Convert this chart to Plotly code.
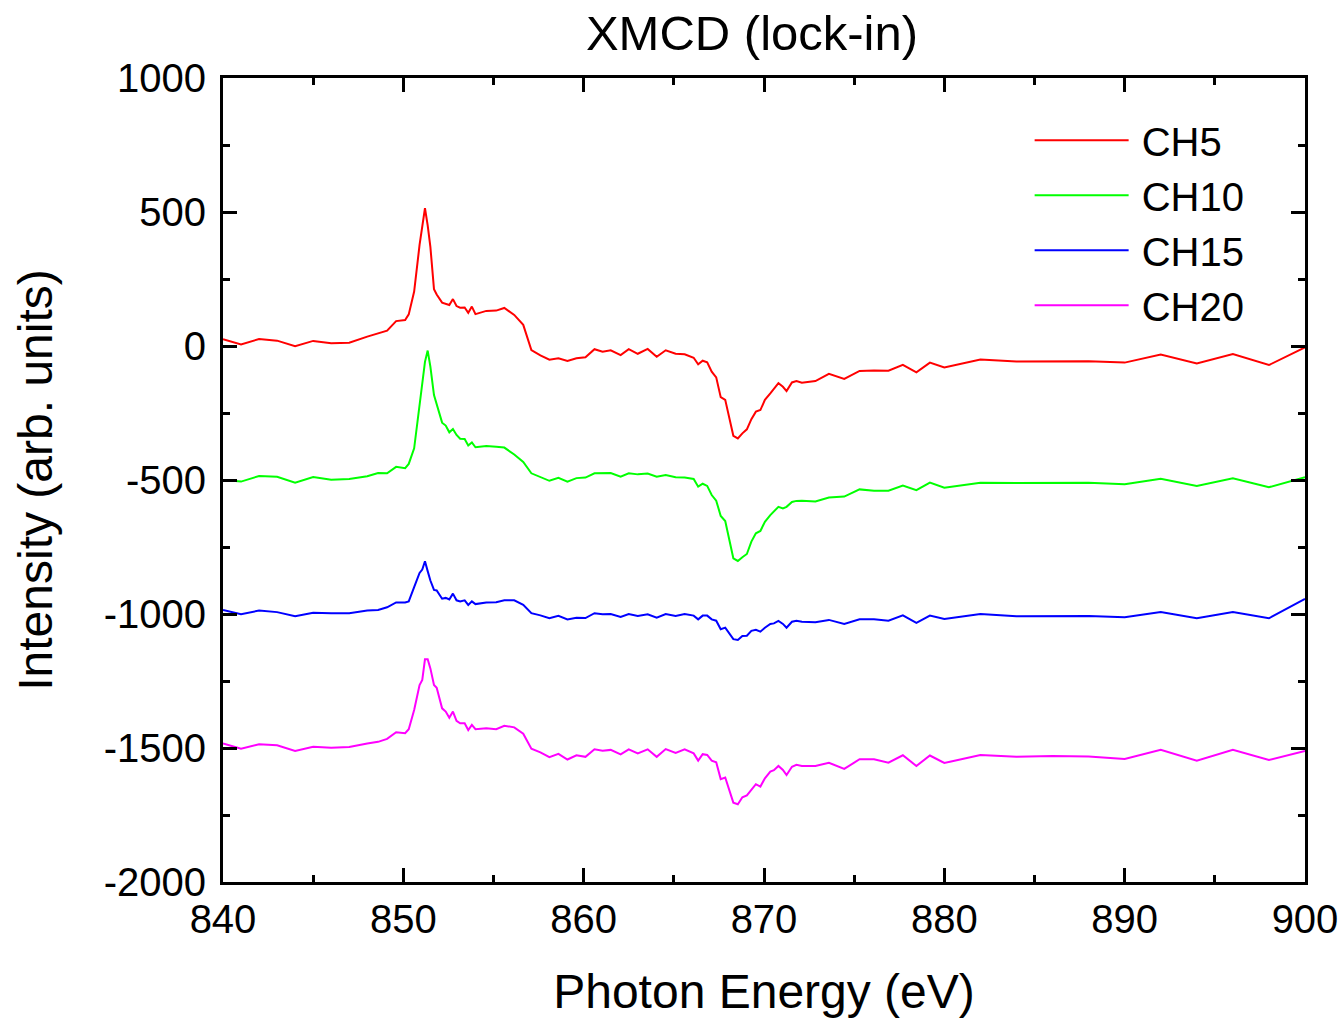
import plotly.graph_objects as go

energy = [840, 841, 842, 843, 844, 845, 846, 847, 848,
          848.6, 849.1, 849.6, 850.1, 850.3, 850.6, 850.9,
          851.05, 851.2, 851.35, 851.5, 851.7, 851.85,
          852.15, 852.35, 852.55, 852.75, 852.95,
          853.15, 853.4, 853.6, 853.8, 854.0,
          854.6, 855.15, 855.6, 856.15, 856.65,
          857.1, 857.6, 858.1, 858.6, 859.1, 859.6, 860.1, 860.6,
          861.05, 861.5, 862.05, 862.5, 863.0, 863.55, 864.05, 864.55,
          865.1, 865.6, 866.1, 866.35, 866.6, 866.85,
          867.1, 867.35, 867.6, 867.85, 868.3, 868.55, 868.8,
          869.05, 869.3, 869.55, 869.8, 870.05, 870.35, 870.55, 870.8,
          871.05, 871.25, 871.55, 871.8, 872.1,
          872.85, 873.6, 874.45, 875.3, 876.1, 876.9,
          877.7, 878.45, 879.2, 880,
          882, 884, 886, 888, 890, 892, 894, 896, 898, 900]

ch5 = [25, 6, 26, 20, -1, 19, 10, 12, 35,
       46, 57, 93, 97, 118, 203, 377,
       445, 514, 450, 370, 212, 192,
       162, 157, 153, 175, 149,
       143, 144, 124, 147, 119,
       131, 132, 142, 116, 79,
       -15, -35, -51, -46, -56, -46, -42, -12,
       -21, -16, -34, -12, -29, -11, -40, -16,
       -29, -31, -44, -68, -55, -61,
       -96, -117, -191, -201, -335, -345, -326,
       -311, -273, -245, -239, -201, -177, -160, -139,
       -152, -168, -136, -131, -137,
       -131, -104, -123, -93, -91, -92,
       -70, -98, -62, -80,
       -50, -58, -57, -57, -62, -32, -65, -30, -71, -5]

ch10 = [-500, -506, -485, -488, -510, -489, -499, -496, -486,
        -474, -475, -451, -456, -440, -382, -227,
        -143, -59, -17, -77, -183, -220,
        -286, -297, -322, -310, -332,
        -346, -347, -371, -360, -378,
        -373, -376, -379, -405, -433,
        -475, -490, -503, -492, -506, -493, -491, -475,
        -474, -474, -488, -475, -479, -476, -488, -481,
        -490, -491, -496, -525, -514, -522,
        -556, -577, -634, -653, -792, -802, -788,
        -776, -730, -699, -690, -656, -631, -618, -600,
        -606, -600, -582, -578, -577,
        -580, -565, -562, -535, -540, -540,
        -521, -538, -510, -529,
        -510, -511, -511, -510, -516, -495, -522, -494, -527, -490]

ch15 = [-985, -1001, -987, -993, -1008, -995, -997, -997, -987,
        -985, -975, -957, -957, -953, -900, -847,
        -834, -803, -840, -875, -910, -912,
        -943, -940, -946, -924, -949,
        -953, -949, -966, -953, -963,
        -957, -956, -949, -949, -966,
        -997, -1005, -1016, -1007, -1020, -1014, -1015, -997,
        -1001, -1000, -1011, -1000, -1007, -1001, -1014, -1000,
        -1007, -1000, -1006, -1020, -1006, -1006,
        -1020, -1025, -1057, -1051, -1094, -1097, -1082,
        -1081, -1063, -1059, -1066, -1051, -1037, -1035, -1026,
        -1037, -1051, -1029, -1025, -1029,
        -1031, -1022, -1037, -1020, -1020, -1025,
        -1005, -1033, -1006, -1019,
        -1000, -1008, -1007, -1007, -1012, -993, -1016, -993, -1016, -944]

ch20 = [-1483, -1503, -1486, -1490, -1511, -1495, -1499, -1496, -1483,
        -1477, -1466, -1441, -1445, -1430, -1358, -1265,
        -1246, -1169, -1169, -1203, -1265, -1275,
        -1352, -1364, -1387, -1364, -1399,
        -1408, -1408, -1433, -1414, -1430,
        -1426, -1430, -1417, -1423, -1447,
        -1503, -1516, -1534, -1522, -1543, -1527, -1533, -1505,
        -1510, -1507, -1524, -1505, -1520, -1505, -1533, -1504,
        -1518, -1505, -1520, -1547, -1523, -1526,
        -1547, -1553, -1616, -1610, -1704, -1710, -1684,
        -1677, -1654, -1635, -1644, -1613, -1588, -1583, -1567,
        -1582, -1601, -1570, -1563, -1567,
        -1567, -1555, -1578, -1542, -1542, -1555,
        -1527, -1567, -1528, -1556,
        -1526, -1533, -1530, -1532, -1541, -1507, -1547, -1507, -1545, -1511]

series_names = ["CH5", "CH10", "CH15", "CH20"]
series_colors = ["#FF0000", "#00FF00", "#0000FF", "#FF00FF"]
series_values = [ch5, ch10, ch15, ch20]

x_ticks = [840, 850, 860, 870, 880, 890, 900]
y_ticks = [1000, 500, 0, -500, -1000, -1500, -2000]
y_ticktext = [str(v) for v in y_ticks]

FONT = "Liberation Sans, Arial, sans-serif"

fig = go.Figure()
for name, color, vals in zip(series_names, series_colors, series_values):
    fig.add_trace(go.Scatter(x=energy, y=vals, mode="lines", name="\u2009" + name,
                             line=dict(color=color, width=2)))

axis_common = dict(
    showline=True, linecolor="black", linewidth=3, mirror="allticks",
    ticks="inside", ticklen=14, tickwidth=3, tickcolor="black",
    showgrid=False, zeroline=False, automargin=False,
    tickfont=dict(family=FONT, size=40, color="black"),
)

fig.update_xaxes(range=[840, 900], tickvals=x_ticks,
                 minor=dict(dtick=5, tick0=840, ticks="inside", ticklen=7, tickwidth=3, tickcolor="black"),
                 title=dict(text="Photon Energy (eV)", font=dict(family=FONT, size=48, color="black"), standoff=35),
                 ticklabelstandoff=0,
                 **axis_common)
fig.update_yaxes(range=[-2000, 1000], tickvals=y_ticks, ticktext=y_ticktext,
                 minor=dict(dtick=250, tick0=0, ticks="inside", ticklen=7, tickwidth=3, tickcolor="black"),
                 title=dict(text="Intensity (arb. units)", font=dict(family=FONT, size=48, color="black"), standoff=36),
                 ticklabelstandoff=6,
                 **axis_common)

fig.update_layout(
    width=1342, height=1018,
    margin=dict(l=223, r=37, t=78, b=136),
    paper_bgcolor="white", plot_bgcolor="white",
    title=dict(text="XMCD (lock-in)", x=752 / 1342, xref="container", xanchor="center",
               y=1 - 33 / 1018, yref="container", yanchor="middle",
               font=dict(family=FONT, size=49, color="black")),
    legend=dict(x=0.7455, y=0.963, xanchor="left", yanchor="top",
                font=dict(family=FONT, size=40, color="black"),
                bgcolor="rgba(0,0,0,0)", itemwidth=94, tracegroupgap=0),
    showlegend=True,
)

fig.write_html("out.html")
